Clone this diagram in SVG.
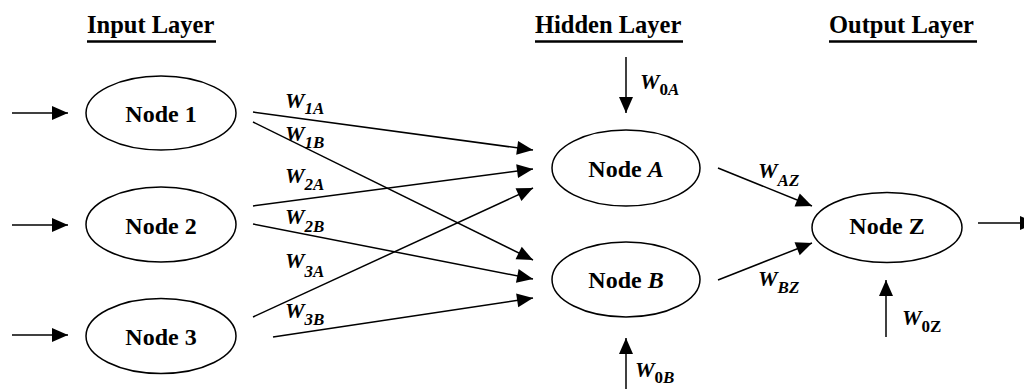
<svg xmlns="http://www.w3.org/2000/svg" width="1024" height="389" viewBox="0 0 1024 389">
<defs>
<style>
text{font-family:"Liberation Serif","DejaVu Serif",serif}
.hd{font-weight:bold;font-size:24.5px;fill:#000}
.ul{stroke:#000;stroke-width:2.5}
.nd ellipse{fill:#fff;stroke:#000;stroke-width:1.5}
.nt{font-weight:bold;font-size:24px;fill:#000;text-anchor:middle}
.w{font-weight:bold;font-style:italic;font-size:22px;fill:#000}
.s{font-size:17px}
.up{font-style:normal}
#conn line{stroke:#000;stroke-width:1.5;marker-end:url(#ah)}
</style>
<marker id="ah" markerUnits="userSpaceOnUse" markerWidth="18" markerHeight="16" refX="17" refY="8" orient="auto">
<path d="M1,1 L17,8 L1,15 Z" fill="#000"/>
</marker>
</defs>
<rect width="1024" height="389" fill="#fff"/>

<g id="headings">
<text class="hd" x="87" y="33">Input Layer</text>
<line class="ul" x1="87" y1="41.5" x2="216" y2="41.5"/>
<text class="hd" x="535" y="33">Hidden Layer</text>
<line class="ul" x1="535" y1="41.5" x2="683" y2="41.5"/>
<text class="hd" x="829" y="33">Output Layer</text>
<line class="ul" x1="829" y1="41.5" x2="977" y2="41.5"/>
</g>

<g id="conn">
<line x1="12" y1="113" x2="68" y2="113"/>
<line x1="12" y1="225" x2="68" y2="225"/>
<line x1="12" y1="335" x2="68" y2="335"/>
<line x1="253" y1="112" x2="533" y2="150"/>
<line x1="253" y1="122" x2="533" y2="260"/>
<line x1="253" y1="206" x2="533" y2="169"/>
<line x1="253" y1="224" x2="533" y2="279"/>
<line x1="253" y1="317" x2="533" y2="188"/>
<line x1="273" y1="337" x2="533" y2="298"/>
<line x1="626" y1="57" x2="626" y2="113"/>
<line x1="626" y1="392" x2="626" y2="338"/>
<line x1="718" y1="168" x2="812" y2="206"/>
<line x1="718" y1="280" x2="812" y2="243"/>
<line x1="886" y1="337" x2="886" y2="280"/>
<line x1="978" y1="223" x2="1036" y2="223"/>
</g>

<g id="labels">
<text class="w" x="285" y="108">W<tspan class="s" dy="6">1A</tspan></text>
<text class="w" x="285" y="141">W<tspan class="s" dy="7">1B</tspan></text>
<text class="w" x="285" y="183">W<tspan class="s" dy="7">2A</tspan></text>
<text class="w" x="285" y="224">W<tspan class="s" dy="8">2B</tspan></text>
<text class="w" x="285" y="268">W<tspan class="s" dy="9">3A</tspan></text>
<text class="w" x="285" y="318">W<tspan class="s" dy="7">3B</tspan></text>
<text class="w" x="640" y="89">W<tspan class="s up" dy="6">0</tspan><tspan class="s">A</tspan></text>
<text class="w" x="635" y="377">W<tspan class="s up" dy="6">0</tspan><tspan class="s">B</tspan></text>
<text class="w" x="758" y="178">W<tspan class="s" dy="8">AZ</tspan></text>
<text class="w" x="758" y="286">W<tspan class="s" dy="7">BZ</tspan></text>
<text class="w" x="902" y="325">W<tspan class="s up" dy="7">0Z</tspan></text>
</g>

<g id="node1" class="nd"><ellipse cx="161" cy="113" rx="75" ry="37"/><text class="nt" x="161" y="122">Node 1</text></g>
<g id="node2" class="nd"><ellipse cx="161" cy="224.5" rx="75" ry="37.5"/><text class="nt" x="161" y="234">Node 2</text></g>
<g id="node3" class="nd"><ellipse cx="161" cy="336" rx="75" ry="37.5"/><text class="nt" x="161" y="345">Node 3</text></g>
<g id="nodeA" class="nd"><ellipse cx="626" cy="168" rx="74" ry="38"/><text class="nt" x="626" y="177">Node <tspan font-style="italic">A</tspan></text></g>
<g id="nodeB" class="nd"><ellipse cx="626" cy="279.5" rx="74" ry="37.5"/><text class="nt" x="626" y="288">Node <tspan font-style="italic">B</tspan></text></g>
<g id="nodeZ" class="nd"><ellipse cx="887" cy="227.5" rx="75" ry="35"/><text class="nt" x="887" y="234">Node Z</text></g>
</svg>
